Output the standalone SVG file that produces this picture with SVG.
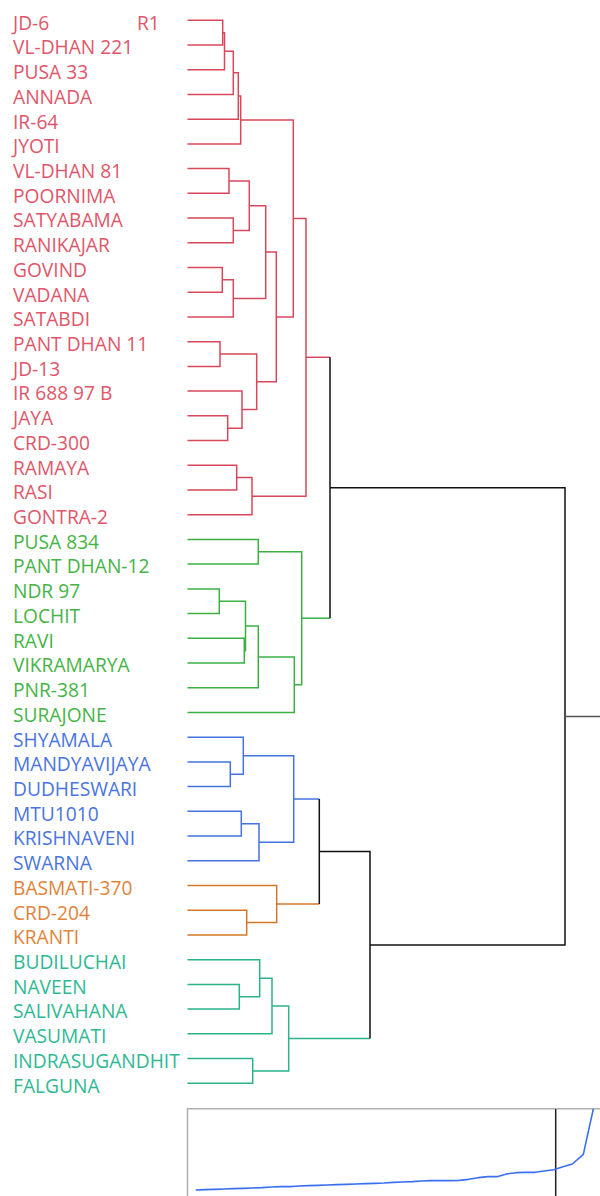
<svg xmlns="http://www.w3.org/2000/svg" width="600" height="1196" viewBox="0 0 600 1196">
<style>
text{font-family:"Open Sans","Liberation Sans",sans-serif;font-size:19.2px}
.tr{fill:#e0566a}.tg{fill:#46b446}.tb{fill:#4a74e2}.to{fill:#e0843c}.tt{fill:#2fb894}
path{fill:none;stroke-width:1.5}
.r{stroke:#d9475b}.g{stroke:#3cb043}.b{stroke:#4472e0}.o{stroke:#d2772a}.t{stroke:#2bb38a}.k{stroke:#111}
</style>
<rect width="600" height="1196" fill="#fff"/>
<g id="labels">
<text class="tr" x="13" y="29.6">JD-6</text>
<text class="tr" x="137" y="29.6">R1</text>
<text class="tr" x="13" y="54.3">VL-DHAN 221</text>
<text class="tr" x="13" y="79">PUSA 33</text>
<text class="tr" x="13" y="103.8">ANNADA</text>
<text class="tr" x="13" y="128.5">IR-64</text>
<text class="tr" x="13" y="153.2">JYOTI</text>
<text class="tr" x="13" y="177.9">VL-DHAN 81</text>
<text class="tr" x="13" y="202.6">POORNIMA</text>
<text class="tr" x="13" y="227.4">SATYABAMA</text>
<text class="tr" x="13" y="252.1">RANIKAJAR</text>
<text class="tr" x="13" y="276.8">GOVIND</text>
<text class="tr" x="13" y="301.5">VADANA</text>
<text class="tr" x="13" y="326.2">SATABDI</text>
<text class="tr" x="13" y="351">PANT DHAN 11</text>
<text class="tr" x="13" y="375.7">JD-13</text>
<text class="tr" x="13" y="400.4">IR 688 97 B</text>
<text class="tr" x="13" y="425.1">JAYA</text>
<text class="tr" x="13" y="449.8">CRD-300</text>
<text class="tr" x="13" y="474.6">RAMAYA</text>
<text class="tr" x="13" y="499.3">RASI</text>
<text class="tr" x="13" y="524">GONTRA-2</text>
<text class="tg" x="13" y="548.7">PUSA 834</text>
<text class="tg" x="13" y="573.4">PANT DHAN-12</text>
<text class="tg" x="13" y="598.2">NDR 97</text>
<text class="tg" x="13" y="622.9">LOCHIT</text>
<text class="tg" x="13" y="647.6">RAVI</text>
<text class="tg" x="13" y="672.3">VIKRAMARYA</text>
<text class="tg" x="13" y="697">PNR-381</text>
<text class="tg" x="13" y="721.8">SURAJONE</text>
<text class="tb" x="13" y="746.5">SHYAMALA</text>
<text class="tb" x="13" y="771.2">MANDYAVIJAYA</text>
<text class="tb" x="13" y="795.9">DUDHESWARI</text>
<text class="tb" x="13" y="820.6">MTU1010</text>
<text class="tb" x="13" y="845.4">KRISHNAVENI</text>
<text class="tb" x="13" y="870.1">SWARNA</text>
<text class="to" x="13" y="894.8">BASMATI-370</text>
<text class="to" x="13" y="919.5">CRD-204</text>
<text class="to" x="13" y="944.2">KRANTI</text>
<text class="tt" x="13" y="969">BUDILUCHAI</text>
<text class="tt" x="13" y="993.7">NAVEEN</text>
<text class="tt" x="13" y="1018.4">SALIVAHANA</text>
<text class="tt" x="13" y="1043.1">VASUMATI</text>
<text class="tt" x="13" y="1067.8">INDRASUGANDHIT</text>
<text class="tt" x="13" y="1092.6">FALGUNA</text>
</g>
<g id="connectors">
<path class="r" d="M187.5 20.3H222.7V45H187.5"/>
<path class="r" d="M222.7 32.65H224.5V69.7H187.5"/>
<path class="r" d="M224.5 51.2H233.3V94.5H187.5"/>
<path class="r" d="M233.3 72.85H238.3V119.2H187.5"/>
<path class="r" d="M238.3 96H240.7V143.9H187.5"/>
<path class="r" d="M187.5 168.6H229V193.3H187.5"/>
<path class="r" d="M187.5 218.1H233.3V242.8H187.5"/>
<path class="r" d="M229 181H249.3V230.45H233.3"/>
<path class="r" d="M187.5 267.5H222.3V292.2H187.5"/>
<path class="r" d="M222.3 279.85H233.3V316.9H187.5"/>
<path class="r" d="M249.3 205.7H265.7V298.4H233.3"/>
<path class="r" d="M187.5 341.7H220V366.4H187.5"/>
<path class="r" d="M187.5 415.8H227.7V440.5H187.5"/>
<path class="r" d="M187.5 391.1H242V428.2H227.7"/>
<path class="r" d="M220 354H256.7V409.6H242"/>
<path class="r" d="M265.7 252H276.3V381.8H256.7"/>
<path class="r" d="M240.7 120H293.3V316.9H276.3"/>
<path class="r" d="M187.5 465.3H236.7V490H187.5"/>
<path class="r" d="M236.7 477.6H252V514.7H187.5"/>
<path class="r" d="M293.3 218.5H306V496.2H252"/>
<path class="g" d="M187.5 539.4H258.3V564.1H187.5"/>
<path class="g" d="M187.5 588.9H219.3V613.6H187.5"/>
<path class="g" d="M187.5 638.3H244.3V663H187.5"/>
<path class="g" d="M219.3 601.2H245.5V650.7H244.3"/>
<path class="g" d="M245.5 626H258.3V687.7H187.5"/>
<path class="g" d="M258.3 656.9H294.3V712.5H187.5"/>
<path class="g" d="M258.3 551.8H301.7V684.7H294.3"/>
<path class="b" d="M187.5 761.9H230.3V786.6H187.5"/>
<path class="b" d="M187.5 737.2H243.3V774.25H230.3"/>
<path class="b" d="M187.5 811.3H241.3V836.1H187.5"/>
<path class="b" d="M241.3 823.7H259V860.8H187.5"/>
<path class="b" d="M243.3 755.7H293.7V842.25H259"/>
<path class="o" d="M187.5 910.2H246.7V934.9H187.5"/>
<path class="o" d="M187.5 885.5H276.7V922.55H246.7"/>
<path class="t" d="M187.5 984.4H239.3V1009.1H187.5"/>
<path class="t" d="M187.5 959.7H259.7V996.75H239.3"/>
<path class="t" d="M259.7 978.2H272V1033.8H187.5"/>
<path class="t" d="M187.5 1058.5H252.7V1083.3H187.5"/>
<path class="t" d="M272 1006H288.7V1070.9H252.7"/>
<path class="r" d="M306 357.3H330"/>
<path class="g" d="M301.7 618.2H330"/>
<path class="b" d="M293.7 799H319.3"/>
<path class="o" d="M276.7 904H319.3"/>
<path class="t" d="M288.7 1038.5H370"/>
<path class="k" d="M330 357.3V618.2"/>
<path class="k" d="M319.3 799V904"/>
<path class="k" stroke-width="1.2" d="M319.3 851.5H370V1038.5"/>
<path class="k" stroke-width="1.2" d="M330 487.8H565V945H370"/>
<path stroke="#555" stroke-width="1" d="M565 716.4H600"/>
</g>
<g id="chart">
<path stroke="#b0b0b0" stroke-width="1.5" d="M187.5 1196V1108.8H600"/>
<path stroke="#222" stroke-width="1" d="M555.7 1109V1196"/>
<polyline fill="none" stroke="#3a6ff0" stroke-width="1.6" stroke-linejoin="round" points="195.67,1190 205,1189.67 214.67,1189.33 224,1189 233.33,1188.67 243.33,1188.33 252.67,1188 262,1187.67 271.33,1187 280.67,1186.67 290,1186.67 299.33,1186 308.67,1185.67 318,1185.33 327.67,1185 337,1184.67 346.33,1184.33 355.67,1184 365.33,1183.67 374.67,1183.33 384,1183 393.33,1182.33 402.67,1182 412.33,1181.67 421.67,1181 431,1180.67 440.33,1180.67 450,1180.67 459.33,1180.33 468.67,1179.33 478.33,1177.67 487.67,1176.67 497,1176.67 506.67,1174 516,1172.67 525.33,1172.33 535,1172.33 544.33,1171 553.67,1169.67 563,1166.67 572.33,1164 583.33,1154.33 593.33,1108.8"/>
</g>
</svg>
